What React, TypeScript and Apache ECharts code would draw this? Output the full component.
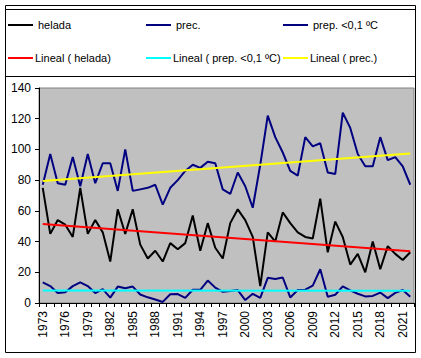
import React, { useEffect, useRef } from "react";
import * as echarts from "echarts";

const years: string[] = [];
for (let y = 1973; y <= 2022; y++) years.push(String(y));

const helada = [
  75, 45, 54, 51, 43, 75, 45, 54, 46, 27, 61, 45, 61, 38, 29, 34, 27, 39, 35, 39,
  57, 34, 52, 36, 29, 52, 61, 54, 43, 11, 46, 40, 59, 52, 46, 43, 42, 68, 33, 53,
  43, 25, 32, 20, 40, 22, 37, 32, 28, 33,
];
const prec = [
  77, 97, 78, 77, 95, 76, 97, 78, 91, 91, 73, 100, 73, 74, 75, 77, 64, 75, 80, 86,
  90, 88, 92, 91, 74, 71, 85, 76, 62, 90, 122, 108, 98, 86, 83, 108, 102, 104, 85, 84,
  124, 114, 97, 89, 89, 108, 93, 95, 89, 77,
];
const prep01 = [
  13.5, 11, 6.5, 7, 11, 13.5, 11, 6.5, 9, 3.5, 10.7, 9.6, 10.7, 5.5, 3.7, 2.3, 0.7, 5.7, 5.8, 3.3,
  8.6, 8.6, 14.6, 10, 7.3, 7.8, 8.4, 1.9, 6, 3.3, 16.4, 15.6, 16.6, 3.6, 8.5, 8.7, 11.3, 22, 4.1, 5.4,
  10.8, 8.2, 6, 4.3, 4.6, 6.8, 3.2, 6.6, 8.5, 4.1,
];
// trend line end values (first year, last year) as drawn
const heladaTrend = [51.4, 33.7];
const precTrend = [79.5, 97.4];
const prep01Trend = [8.2, 8.0];

const yTicks = [0, 140, 20]; // min, max, interval

const FONT = '"Liberation Sans", Arial, sans-serif';

export default function App() {
  const ref = useRef<HTMLDivElement>(null);
  useEffect(() => {
    document.body.style.margin = "0";
    const chart = echarts.init(ref.current!, null, { renderer: "svg" });
    const first = years[0];
    const last = years[years.length - 1];
    const lineSeries = (name: string, data: any[], color: string, z = 2) => ({
      name,
      type: "line",
      data,
      symbol: "none",
      showSymbol: false,
      lineStyle: { color, width: 2 },
      itemStyle: { color },
      z,
      silent: true,
    });
    const legendItem = (name: string, left: number, top: number, shift = 0) => ({
      data: [name],
      left,
      top,
      padding: 0,
      icon: "rect",
      itemWidth: 25,
      itemHeight: 2,
      selectedMode: false,
      textStyle: {
        fontFamily: FONT,
        fontSize: 11,
        color: "#000",
        lineHeight: 12,
        padding: [0, 0, 0, shift],
      },
    });
    chart.setOption({
      animation: false,
      backgroundColor: "#fff",
      textStyle: { fontFamily: FONT },
      legend: [
        legendItem("helada", 8, 19),
        legendItem("prec.", 146, 19),
        legendItem("prep. <0,1 ºC", 283, 19),
        legendItem("Lineal ( helada)", 8, 52, -3),
        legendItem("Lineal ( prep. <0,1 ºC)", 146, 52, -3),
        legendItem("Lineal ( prec.)", 283, 52, -3),
      ],
      grid: {
        left: 39,
        right: 7,
        top: 88,
        bottom: 55,
        show: true,
        backgroundColor: "#c0c0c0",
        borderColor: "#808080",
        borderWidth: 1,
      },
      xAxis: {
        type: "category",
        data: years,
        boundaryGap: true,
        axisLine: { lineStyle: { color: "#000", width: 1 } },
        axisTick: { show: true, interval: 0, length: 4, lineStyle: { color: "#000" } },
        axisLabel: {
          interval: 2,
          rotate: 90,
          margin: 8,
          fontSize: 12,
          color: "#000",
          fontFamily: FONT,
        },
        splitLine: { show: false },
      },
      yAxis: {
        type: "value",
        min: yTicks[0],
        max: yTicks[1],
        interval: yTicks[2],
        axisLine: { show: true, lineStyle: { color: "#000", width: 1 } },
        axisTick: { show: true, length: 4, lineStyle: { color: "#000" } },
        axisLabel: { fontSize: 12, color: "#000", margin: 8, fontFamily: FONT },
        splitLine: { show: false },
      },
      series: [
        lineSeries("helada", helada, "#000000"),
        lineSeries("prec.", prec, "#000080"),
        lineSeries("prep. <0,1 ºC", prep01, "#000080"),
        lineSeries("Lineal ( helada)", [[first, heladaTrend[0]], [last, heladaTrend[1]]], "#ff0000", 3),
        lineSeries("Lineal ( prep. <0,1 ºC)", [[first, prep01Trend[0]], [last, prep01Trend[1]]], "#00ffff", 3),
        lineSeries("Lineal ( prec.)", [[first, precTrend[0]], [last, precTrend[1]]], "#ffff00", 3),
      ],
      graphic: [
        {
          type: "rect",
          shape: { x: 5.5, y: 5.5, width: 410, height: 347 },
          style: { fill: "none", stroke: "#000", lineWidth: 1 },
          z: 10,
          silent: true,
        },
        {
          type: "rect",
          shape: { x: 5.5, y: 9.5, width: 410, height: 67 },
          style: { fill: "none", stroke: "#000", lineWidth: 1 },
          z: 10,
          silent: true,
        },
      ],
    });
    return () => chart.dispose();
  }, []);
  return (
    <div
      ref={ref}
      style={{ position: "absolute", left: 0, top: 0, width: 421, height: 358 }}
    />
  );
}
